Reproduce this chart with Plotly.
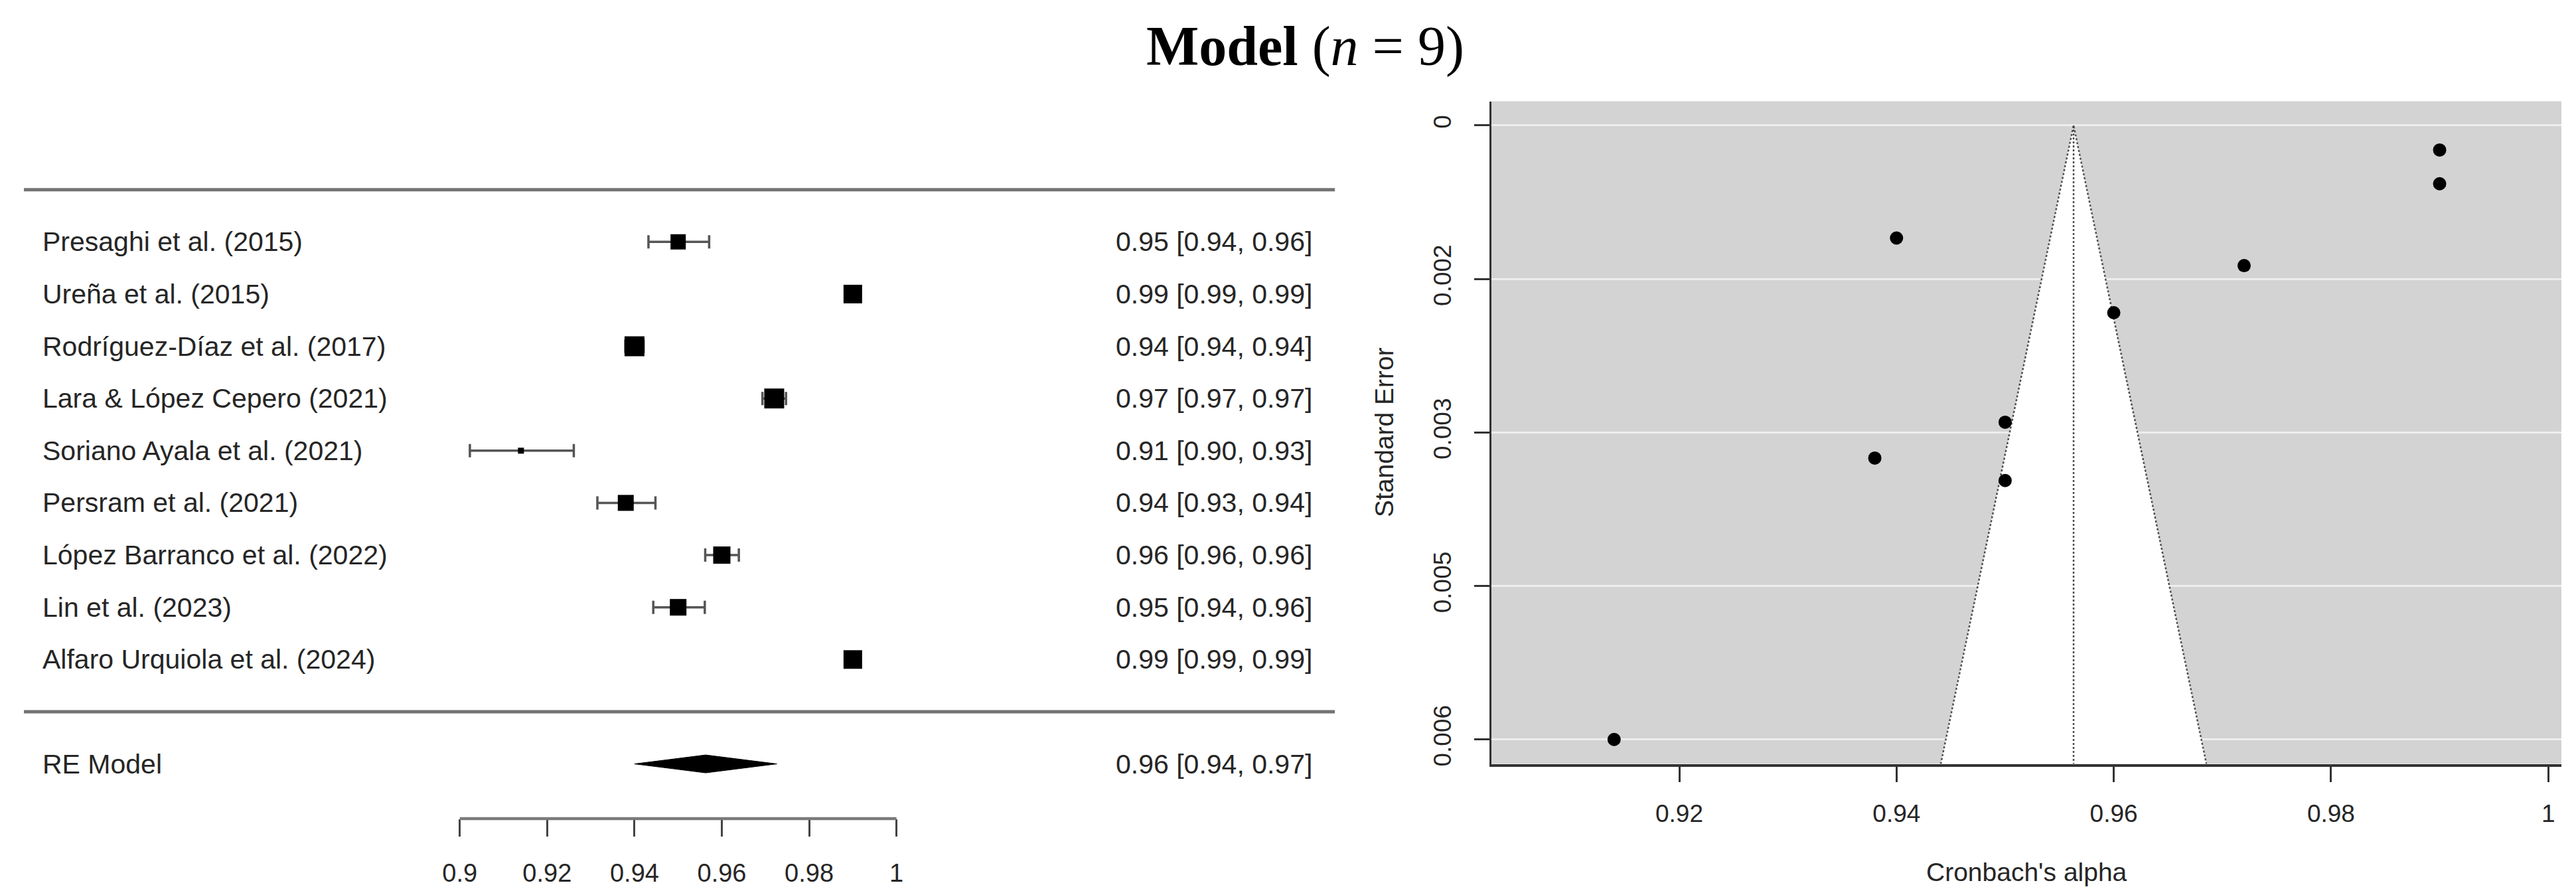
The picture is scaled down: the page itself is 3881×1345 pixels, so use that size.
import plotly.graph_objects as go

W, H = 3881, 1345

# ---------------- data ----------------
studies = ["Presaghi et al. (2015)", "Ureña et al. (2015)", "Rodríguez-Díaz et al. (2017)",
           "Lara & López Cepero (2021)", "Soriano Ayala et al. (2021)", "Persram et al. (2021)",
           "López Barranco et al. (2022)", "Lin et al. (2023)", "Alfaro Urquiola et al. (2024)"]
alpha = [0.950, 0.990, 0.940, 0.972, 0.914, 0.938, 0.960, 0.950, 0.990]
ci_low = [0.9432, 0.9895, 0.9379, 0.9693, 0.9023, 0.9315, 0.9562, 0.9443, 0.9889]
ci_high = [0.9571, 0.9905, 0.9421, 0.9747, 0.9261, 0.9448, 0.9639, 0.9561, 0.9911]
std_err = [0.00347, 0.00024, 0.00110, 0.00137, 0.00600, 0.00325, 0.00183, 0.00290, 0.00057]
box_px = [23, 28, 30, 30, 9, 24, 26, 25, 28]

re_label = "RE Model"
re_est, re_low, re_high = 0.9563, 0.9400, 0.9726

forest_ticks = [0.9, 0.92, 0.94, 0.96, 0.98, 1.0]
forest_ticktext = ["0.9", "0.92", "0.94", "0.96", "0.98", "1"]
funnel_xticks = [0.92, 0.94, 0.96, 0.98, 1.0]
funnel_xticktext = ["0.92", "0.94", "0.96", "0.98", "1"]
funnel_yticks = [0, 0.0015, 0.003, 0.0045, 0.006]
funnel_yticktext = ["0", "0.002", "0.003", "0.005", "0.006"]

title_html = "<b>Model</b> (<i>n</i> = 9)"
ytitle = "Standard Error"
xtitle = "Cronbach's alpha"

# ---------------- styles ----------------
SANS = "Liberation Sans, Arial, sans-serif"
SERIF = "Liberation Serif, Times New Roman, serif"
TXT = "#262626"
k = len(studies)
rows = [k - i for i in range(k)]
z = 1.96

# forest axes geometry (pixels)
fx_dom = [0, 2018 / W]
fx_range = [0.79591, 1.10266]
fy_dom = [(H - 1228.6) / H, (H - 200) / H]
fy_range = [-2.0476, 10.995]

# funnel axes geometry
gx_dom = [2239 / W, 3851 / W]
gx_range = [0.902707, 1.00121]
gy_dom = [(H - 1146) / H, (H - 145) / H]
gy_range = [0.006239, -0.000236]

fig = go.Figure()

# ---- forest plot ----
# confidence intervals (invisible markers, whiskers only)
fig.add_trace(go.Scatter(
    x=alpha, y=rows, mode="markers", xaxis="x", yaxis="y",
    marker=dict(size=1, color="rgba(0,0,0,0)"),
    error_x=dict(type="data", symmetric=False,
                 array=[h - a for h, a in zip(ci_high, alpha)],
                 arrayminus=[a - l for a, l in zip(alpha, ci_low)],
                 color="#555555", thickness=3.5, width=10),
    showlegend=False, hoverinfo="skip"))
# boxes on top
fig.add_trace(go.Scatter(
    x=alpha, y=rows, mode="markers", xaxis="x", yaxis="y",
    marker=dict(symbol="square", size=box_px, color="black", opacity=1,
                line=dict(width=0)),
    showlegend=False, hoverinfo="skip"))

dh = 13.5 / 78.84
fig.add_trace(go.Scatter(
    x=[re_low, re_est, re_high, re_est, re_low],
    y=[-1, -1 + dh, -1, -1 - dh, -1],
    mode="lines", fill="toself", fillcolor="black", line=dict(color="black", width=1),
    xaxis="x", yaxis="y", showlegend=False, hoverinfo="skip"))

# ---- funnel plot ----
ymax = gy_range[0]
fig.add_trace(go.Scatter(
    x=[re_est - z * ymax, re_est, re_est + z * ymax],
    y=[ymax, 0, ymax], mode="lines", fill="toself", fillcolor="white",
    line=dict(width=0), xaxis="x2", yaxis="y2", showlegend=False, hoverinfo="skip"))
fig.add_trace(go.Scatter(
    x=[re_est - z * ymax, re_est, re_est + z * ymax],
    y=[ymax, 0, ymax], mode="lines",
    line=dict(color="#4d4d4d", width=2.5, dash="dot"),
    xaxis="x2", yaxis="y2", showlegend=False, hoverinfo="skip"))
fig.add_trace(go.Scatter(
    x=[re_est, re_est], y=[0, ymax], mode="lines",
    line=dict(color="#4d4d4d", width=2.5, dash="dot"),
    xaxis="x2", yaxis="y2", showlegend=False, hoverinfo="skip"))
fig.add_trace(go.Scatter(
    x=alpha, y=std_err, mode="markers",
    marker=dict(symbol="circle", size=20, color="black", opacity=1, line=dict(width=0)),
    xaxis="x2", yaxis="y2", showlegend=False, hoverinfo="skip"))

shapes = [
    dict(type="rect", xref="x2 domain", yref="y2 domain", x0=0, x1=1, y0=0, y1=1,
         fillcolor="#d3d3d3", line=dict(width=0), layer="below"),
    dict(type="line", xref="paper", yref="y", x0=28 / W, x1=2003 / W, y0=k + 1, y1=k + 1,
         line=dict(color="#737373", width=5)),
    dict(type="line", xref="paper", yref="y", x0=28 / W, x1=2003 / W, y0=0, y1=0,
         line=dict(color="#737373", width=5)),
    dict(type="line", xref="x", yref="y domain", x0=min(forest_ticks), x1=max(forest_ticks),
         y0=0, y1=0, line=dict(color="#7a7a7a", width=4.5)),
]

annotations = [
    dict(text=title_html, x=1958 / W, y=1 - 62 / H, xref="paper", yref="paper",
         xanchor="center", yanchor="middle", showarrow=False,
         font=dict(family=SERIF, size=84, color="black")),
    dict(text=ytitle, x=2077 / W, y=1 - 645 / H, xref="paper", yref="paper",
         xanchor="center", yanchor="middle", showarrow=False, textangle=-90,
         font=dict(family=SANS, size=39, color=TXT)),
    dict(text=xtitle, x=3045 / W, y=1 - 1309 / H, xref="paper", yref="paper",
         xanchor="center", yanchor="middle", showarrow=False,
         font=dict(family=SANS, size=39, color=TXT)),
]
for name, r, a, l, h in zip(studies + [re_label], rows + [-1],
                            alpha + [re_est], ci_low + [re_low], ci_high + [re_high]):
    annotations.append(dict(text=name, x=54 / W, y=r, xref="paper", yref="y",
                            xanchor="left", yanchor="middle", showarrow=False,
                            font=dict(family=SANS, size=41, color=TXT)))
    annotations.append(dict(text=f"{a:.2f} [{l:.2f}, {h:.2f}]", x=1971 / W, y=r,
                            xref="paper", yref="y", xanchor="right", yanchor="middle",
                            showarrow=False, font=dict(family=SANS, size=41, color=TXT)))

fig.update_layout(
    width=W, height=H, margin=dict(l=0, r=0, t=0, b=0),
    paper_bgcolor="white", plot_bgcolor="rgba(0,0,0,0)",
    showlegend=False, shapes=shapes, annotations=annotations,
    xaxis=dict(domain=fx_dom, range=fx_range, anchor="y", tickmode="array",
               tickvals=forest_ticks, ticktext=forest_ticktext, ticks="outside",
               ticklen=26, tickwidth=2.5, tickcolor="#444444", showline=False,
               showgrid=False, zeroline=False, ticklabelstandoff=22,
               tickfont=dict(family=SANS, size=38, color=TXT)),
    yaxis=dict(domain=fy_dom, range=fy_range, anchor="x", visible=False,
               showgrid=False, zeroline=False),
    xaxis2=dict(domain=gx_dom, range=gx_range, anchor="y2", tickmode="array",
                tickvals=funnel_xticks, ticktext=funnel_xticktext, ticks="outside",
                ticklen=23, tickwidth=2.5, tickcolor="#333333", showline=True,
                linecolor="#333333", linewidth=4, showgrid=False, zeroline=False,
                ticklabelstandoff=16, tickfont=dict(family=SANS, size=37, color=TXT)),
    yaxis2=dict(domain=gy_dom, range=gy_range, anchor="x2", tickmode="array",
                tickvals=funnel_yticks, ticktext=funnel_yticktext, ticks="outside",
                ticklen=23, tickwidth=2.5, tickcolor="#333333", showline=True,
                linecolor="#333333", linewidth=3, showgrid=True, gridcolor="#ededed",
                gridwidth=3, zeroline=False, tickangle=-90, ticklabelstandoff=20,
                tickfont=dict(family=SANS, size=37, color=TXT)),
)

fig.write_html("out.html")
